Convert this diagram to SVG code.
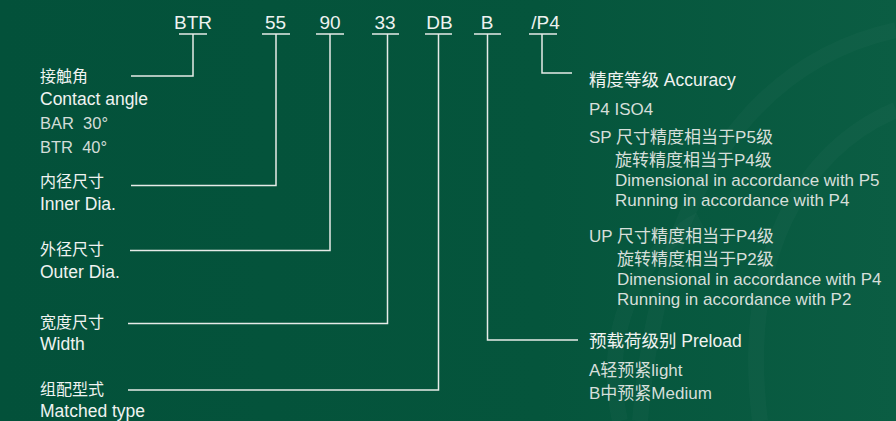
<svg xmlns="http://www.w3.org/2000/svg" width="896" height="421" viewBox="0 0 896 421">
<defs>
<linearGradient id="bg" x1="0" y1="0" x2="1" y2="0">
<stop offset="0" stop-color="#03513a"/>
<stop offset="0.6" stop-color="#05553c"/>
<stop offset="1" stop-color="#0b5d43"/>
</linearGradient>
<style>
.code{font-family:"Liberation Sans","Noto Sans CJK SC",sans-serif;font-size:19px;fill:#eef2f0;text-anchor:middle}
.cn{font-family:"Noto Sans CJK SC","Liberation Sans",sans-serif;font-size:16px;fill:#f0f3f1}
.en{font-family:"Liberation Sans","Noto Sans CJK SC",sans-serif;font-size:17.5px;fill:#f0f3f1}
.sub{font-family:"Liberation Sans","Noto Sans CJK SC",sans-serif;font-size:16.5px;fill:#d3ddd8}
.rh{font-family:"Liberation Sans","Noto Sans CJK SC",sans-serif;font-size:17.5px;fill:#f0f3f1}
.rs{font-family:"Liberation Sans","Noto Sans CJK SC",sans-serif;font-size:17px;fill:#d6dfda}
.ln{fill:none;stroke:#e6ebe8;stroke-width:1.5}
.deco{fill:none;stroke:#ffffff;stroke-opacity:0.025;stroke-width:16}
</style>
</defs>
<rect width="896" height="421" fill="url(#bg)"/>
<g id="decor">
<path class="deco" d="M896 30 C760 60 660 180 640 421"/>
<path class="deco" d="M896 110 C800 150 740 260 760 421"/>
<path class="deco" d="M620 421 C600 330 640 250 700 220"/>
</g>
<g id="codes">
<g id="code-BTR"><text class="code" x="193" y="29">BTR</text></g>
<g id="code-55"><text class="code" x="275.5" y="29">55</text></g>
<g id="code-90"><text class="code" x="330" y="29">90</text></g>
<g id="code-33"><text class="code" x="385" y="29">33</text></g>
<g id="code-DB"><text class="code" x="439.5" y="29">DB</text></g>
<g id="code-B"><text class="code" x="487" y="29">B</text></g>
<g id="code-P4"><text class="code" x="545.5" y="29">/P4</text></g>
</g>
<g id="connectors">
<line class="ln" x1="179" y1="34" x2="207" y2="34"/>
<line class="ln" x1="262" y1="34" x2="290" y2="34"/>
<line class="ln" x1="316" y1="34" x2="344" y2="34"/>
<line class="ln" x1="372" y1="34" x2="399" y2="34"/>
<line class="ln" x1="425" y1="34" x2="452" y2="34"/>
<line class="ln" x1="474" y1="34" x2="501" y2="34"/>
<line class="ln" x1="529" y1="34" x2="557" y2="34"/>
<polyline class="ln" points="193,34 193,76 131,76"/>
<polyline class="ln" points="276,34 276,185.5 131,185.5"/>
<polyline class="ln" points="330,34 330,250.5 130,250.5"/>
<polyline class="ln" points="387.5,34 387.5,323.5 128,323.5"/>
<polyline class="ln" points="438.5,34 438.5,390 128,390"/>
<polyline class="ln" points="487.5,34 487.5,340 578,340"/>
<polyline class="ln" points="542,34 542,73 572,73"/>
</g>
<g id="contact-angle">
<text class="cn" x="40" y="82">接触角</text>
<text class="en" x="40" y="105">Contact angle</text>
<text class="sub" x="40" y="129" xml:space="preserve">BAR  30°</text>
<text class="sub" x="40" y="153" xml:space="preserve">BTR  40°</text>
</g>
<g id="inner-dia">
<text class="cn" x="40" y="187">内径尺寸</text>
<text class="en" x="40" y="210">Inner Dia.</text>
</g>
<g id="outer-dia">
<text class="cn" x="40" y="255">外径尺寸</text>
<text class="en" x="40" y="278">Outer Dia.</text>
</g>
<g id="width">
<text class="cn" x="40" y="328">宽度尺寸</text>
<text class="en" x="40" y="350">Width</text>
</g>
<g id="matched-type">
<text class="cn" x="40" y="395">组配型式</text>
<text class="en" x="40" y="417">Matched type</text>
</g>
<g id="accuracy">
<text class="rh" x="589" y="86">精度等级 Accuracy</text>
<text class="rs" x="589" y="115">P4 ISO4</text>
<text class="rs" x="589" y="143">SP 尺寸精度相当于P5级</text>
<text class="rs" x="615" y="166">旋转精度相当于P4级</text>
<text class="rs" x="615" y="186">Dimensional in accordance with P5</text>
<text class="rs" x="615" y="206">Running in accordance with P4</text>
<text class="rs" x="589" y="242">UP 尺寸精度相当于P4级</text>
<text class="rs" x="617" y="265">旋转精度相当于P2级</text>
<text class="rs" x="617" y="285">Dimensional in accordance with P4</text>
<text class="rs" x="617" y="305">Running in accordance with P2</text>
</g>
<g id="preload">
<text class="rh" x="589" y="347">预载荷级别 Preload</text>
<text class="rs" x="589" y="376">A轻预紧light</text>
<text class="rs" x="589" y="399">B中预紧Medium</text>
</g>
</svg>
